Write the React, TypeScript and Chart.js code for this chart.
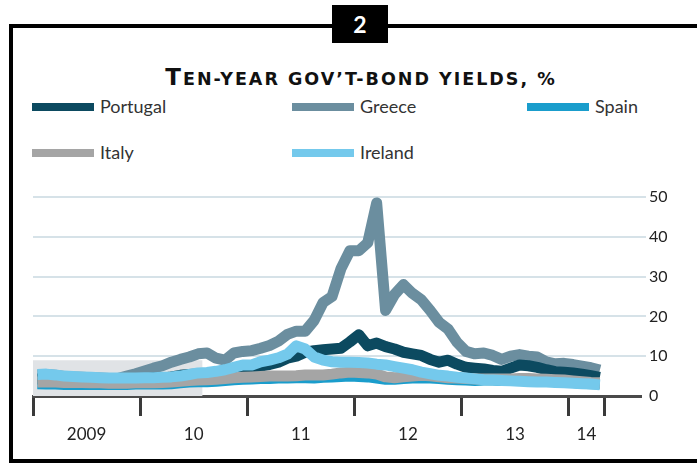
import React, { useEffect, useRef } from "react";
import { Chart, registerables } from "chart.js";

Chart.register(...registerables);

// Monthly averages, Jan 2009 (index 0) to Apr 2014 (index 63)
const portugal = [
  4.3, 4.4, 4.3, 4.2, 4.1, 4.1, 4.0, 4.0, 3.9, 3.9, 3.8, 4.0,
  4.3, 4.5, 4.5, 4.8, 5.2, 5.4, 5.5, 5.6, 6.0, 6.4, 6.9, 7.0,
  7.3, 7.5, 7.9, 8.5, 9.5, 10.0, 11.0, 11.4, 11.6, 11.8, 12.0, 13.6,
  15.4, 12.6, 13.3, 12.4, 11.8, 11.0, 10.6, 10.2, 9.2, 8.5, 9.0, 8.0,
  7.2, 7.0, 6.8, 6.4, 6.2, 7.0, 7.8, 7.6, 7.2, 6.6, 6.1, 6.0,
  5.8, 5.5, 5.1, 4.7,
];
const greece = [
  5.3, 5.4, 5.2, 4.9, 4.8, 4.7, 4.6, 4.5, 4.4, 4.4, 5.0, 5.6,
  6.3, 7.0, 7.6, 8.5, 9.2, 9.8, 10.6, 10.8, 9.5, 9.0, 10.8, 11.2,
  11.4, 12.0, 12.7, 13.8, 15.5, 16.3, 16.3, 19.0, 23.5, 25.0, 32.0, 36.5,
  36.5, 38.5, 48.5, 21.5, 25.5, 28.0, 25.8, 24.2, 21.5, 18.5, 16.8, 13.5,
  11.2, 10.6, 10.8, 10.2, 9.2, 10.0, 10.4, 10.0, 9.8, 8.6, 8.1, 8.2,
  7.9, 7.5, 7.1, 6.5,
];
const spain = [
  3.1, 3.0, 3.0, 2.9, 2.9, 2.9, 2.9, 2.9, 2.9, 2.9, 2.9, 3.0,
  3.0, 3.0, 3.0, 3.1, 3.3, 3.5, 3.6, 3.6, 3.7, 3.9, 4.1, 4.2,
  4.3, 4.4, 4.4, 4.5, 4.5, 4.6, 4.6, 4.5, 4.7, 4.8, 4.9, 5.0,
  4.9, 4.8, 4.5, 4.2, 4.2, 4.4, 4.5, 4.6, 4.5, 4.4, 4.2, 4.1,
  4.0, 3.9, 4.0, 4.0, 3.9, 3.9, 4.0, 4.0, 3.9, 3.8, 3.6, 3.5,
  3.4, 3.2, 3.1, 3.0,
];
const italy = [
  3.5, 3.6, 3.5, 3.4, 3.4, 3.4, 3.3, 3.3, 3.2, 3.2, 3.2, 3.3,
  3.3, 3.3, 3.4, 3.5, 3.7, 3.9, 4.0, 4.1, 4.2, 4.4, 4.6, 4.7,
  4.8, 4.9, 5.0, 5.0, 5.0, 5.1, 5.3, 5.3, 5.3, 5.5, 5.8, 6.0,
  5.9, 5.8, 5.5, 4.8, 4.6, 4.8, 5.0, 5.2, 5.1, 4.8, 4.6, 4.5,
  4.4, 4.3, 4.3, 4.3, 4.3, 4.3, 4.4, 4.4, 4.3, 4.2, 4.1, 4.0,
  3.8, 3.6, 3.4, 3.3,
];
const ireland = [
  5.4, 5.5, 5.3, 5.0, 4.9, 4.8, 4.7, 4.6, 4.5, 4.5, 4.5, 4.5,
  4.6, 4.6, 4.7, 4.8, 5.0, 5.4, 5.8, 5.9, 6.2, 6.6, 7.2, 7.8,
  7.8, 8.6, 9.0, 9.6, 10.5, 12.6, 11.8, 9.8, 9.0, 8.6, 8.5, 8.5,
  8.4, 8.3, 8.0, 7.8, 7.4, 7.0, 6.6, 6.0, 5.6, 5.2, 5.0, 4.7,
  4.5, 4.3, 4.1, 4.0, 3.9, 3.8, 3.7, 3.6, 3.5, 3.5, 3.4, 3.3,
  3.2, 3.1, 3.0, 2.8,
];

// Pale shaded block behind the 2009 section
const bandMonths = [0, 19];
const bandTop = [9.0, 9.0];

// Axis: month boundaries of each year, and the year labels placed mid-span
const yearBoundaries = [0, 12, 24, 36, 48, 60, 64];
const yearLabelPositions = [6, 18, 30, 42, 54, 62];
const yearLabels = ["2009", "10", "11", "12", "13", "14"];
const yTicks = [0, 10, 20, 30, 40, 50];

const COLORS = {
  Portugal: "#0c4a60",
  Greece: "#6b8e9f",
  Spain: "#1a9dcc",
  Italy: "#a5a5a5",
  Ireland: "#74c9ec",
};

const legendItems: { name: keyof typeof COLORS; left: number; top: number }[] = [
  { name: "Portugal", left: 32, top: 107 },
  { name: "Greece", left: 292, top: 107 },
  { name: "Spain", left: 527, top: 107 },
  { name: "Italy", left: 32, top: 153 },
  { name: "Ireland", left: 292, top: 153 },
];

const FONT = "Lato, 'Open Sans', sans-serif";
const TITLE_FONT = "'DejaVu Sans', Lato, sans-serif";

const toPoints = (vals: number[]) => vals.map((v, i) => ({ x: i + 0.5, y: v }));

function lineSet(label: keyof typeof COLORS, vals: number[], order: number) {
  return {
    label,
    data: toPoints(vals),
    borderColor: COLORS[label],
    backgroundColor: COLORS[label],
    borderWidth: 11,
    pointRadius: 0,
    tension: 0,
    borderJoinStyle: "round" as const,
    borderCapStyle: "butt" as const,
    fill: false,
    order,
  };
}

export default function App() {
  const canvasRef = useRef<HTMLCanvasElement | null>(null);

  useEffect(() => {
    if (!canvasRef.current) return;
    const chart = new Chart(canvasRef.current, {
      type: "line",
      data: {
        datasets: [
          lineSet("Ireland", ireland, 0),
          lineSet("Italy", italy, 1),
          lineSet("Portugal", portugal, 2),
          lineSet("Spain", spain, 3),
          lineSet("Greece", greece, 4),
          {
            label: "band",
            data: bandMonths.map((m, i) => ({ x: m, y: bandTop[i] })),
            borderWidth: 0,
            pointRadius: 0,
            backgroundColor: "#e0e3e6",
            borderColor: "rgba(0,0,0,0)",
            fill: "origin",
            order: 5,
          },
        ] as any,
      },
      options: {
        animation: false,
        responsive: false,
        maintainAspectRatio: false,
        layout: { padding: { left: 33, top: 197, right: 0, bottom: 8 } },
        plugins: {
          legend: { display: false },
          tooltip: { enabled: false },
          title: { display: false },
        },
        scales: {
          x: {
            type: "linear",
            position: "bottom",
            min: 0,
            max: 68,
            weight: 0,
            afterBuildTicks: (s: any) => {
              s.ticks = yearBoundaries.map((v) => ({ value: v }));
            },
            afterFit: (s: any) => {
              s.height = 20;
            },
            ticks: { display: false },
            grid: {
              drawOnChartArea: false,
              drawTicks: true,
              tickLength: 20,
              color: "#3a3a3a",
              lineWidth: 3,
            },
            border: { display: true, color: "#4a4a4a", width: 3 },
          },
          x2: {
            type: "linear",
            position: "bottom",
            min: 0,
            max: 68,
            weight: 1,
            afterBuildTicks: (s: any) => {
              s.ticks = yearLabelPositions.map((v) => ({ value: v }));
            },
            afterFit: (s: any) => {
              s.height = 40;
            },
            ticks: {
              autoSkip: false,
              maxRotation: 0,
              padding: 8,
              color: "#222",
              font: { family: FONT, size: 17 },
              callback: (_v: any, i: number) => yearLabels[i],
            },
            grid: { display: false, drawTicks: false },
            border: { display: false },
          },
          y: {
            position: "right",
            min: 0,
            max: 50,
            afterBuildTicks: (s: any) => {
              s.ticks = yTicks.map((v) => ({ value: v }));
            },
            afterFit: (s: any) => {
              s.width = 57;
            },
            ticks: {
              padding: 3,
              color: "#222",
              font: { family: FONT, size: 16 },
            },
            grid: {
              drawTicks: true,
              tickLength: 6,
              lineWidth: 2,
              color: (ctx: any) =>
                ctx.tick && ctx.tick.value === 0 ? "rgba(0,0,0,0)" : "#d6e2e8",
            },
            border: { display: false },
          },
        },
      } as any,
    });
    return () => chart.destroy();
  }, []);

  return (
    <div
      style={{
        position: "absolute",
        left: 0,
        top: 0,
        width: 697,
        height: 464,
        overflow: "hidden",
        background: "#fff",
        fontFamily: FONT,
      }}
    >
      <div
        style={{
          position: "absolute",
          left: 9,
          top: 24,
          width: 800,
          height: 439,
          boxSizing: "border-box",
          border: "4px solid #000",
        }}
      />
      <div
        style={{
          position: "absolute",
          left: 332,
          top: 5,
          width: 56,
          height: 38,
          background: "#000",
          color: "#fff",
          fontSize: 23,
          fontWeight: 700,
          lineHeight: "38px",
          textAlign: "center",
        }}
      >
        2
      </div>
      <div
        style={{
          position: "absolute",
          left: 1,
          top: 64,
          width: 720,
          textAlign: "center",
          color: "#111",
          fontFamily: TITLE_FONT,
          fontWeight: 700,
          lineHeight: "26px",
          whiteSpace: "nowrap",
          letterSpacing: 2,
        }}
      >
        <span style={{ fontSize: 23 }}>T</span>
        <span style={{ fontSize: 17.5 }}>EN-YEAR GOV’T-BOND YIELDS, %</span>
      </div>
      {legendItems.map((it) => (
        <React.Fragment key={it.name}>
          <div
            style={{
              position: "absolute",
              left: it.left,
              top: it.top - 4,
              width: 62,
              height: 8,
              background: COLORS[it.name],
            }}
          />
          <div
            style={{
              position: "absolute",
              left: it.left + 68,
              top: it.top - 11,
              fontSize: 18,
              lineHeight: "20px",
              color: "#333",
              whiteSpace: "nowrap",
            }}
          >
            {it.name}
          </div>
        </React.Fragment>
      ))}
      <canvas
        ref={canvasRef}
        width={697}
        height={464}
        style={{ position: "absolute", left: 0, top: 0, width: 697, height: 464 }}
      />
    </div>
  );
}
